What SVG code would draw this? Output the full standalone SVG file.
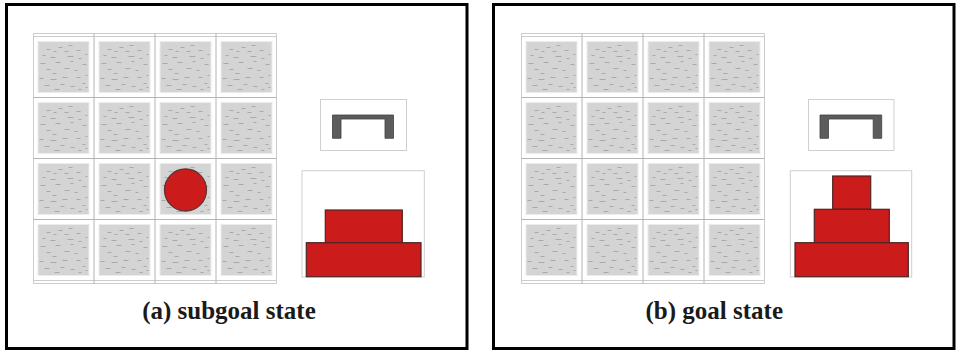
<svg xmlns="http://www.w3.org/2000/svg" xmlns:xlink="http://www.w3.org/1999/xlink" width="956" height="351" viewBox="0 0 956 351">
<style>
.frame{fill:#ffffff;stroke:#000000;stroke-width:3}
.gline{stroke:#b4b4b4;stroke-width:1;fill:none}
.gedge{stroke:#cccccc;stroke-width:1;fill:none}
.box{fill:#ffffff;stroke:#cfcfcf;stroke-width:1}
.grip{fill:#5c5c5c;stroke:#404040;stroke-width:0.8}
.block{fill:#cc1b1b;stroke:#4e2424;stroke-width:1.2}
.label{font-family:"Liberation Serif","Times New Roman",serif;font-weight:bold;font-size:25px;fill:#1a1a1a;text-anchor:middle}
.dash{stroke:#a9a9a9;stroke-width:1}
</style>
<defs>
<g id="tile">
<rect x="-1" y="-1" width="52" height="52" fill="#ececec"/>
<rect x="0" y="0" width="50" height="50" fill="#d4d4d4"/>
<g class="dash">
<path d="M30 3.5h4M20 5.5h4M8 7.5h4M15 9.5h3M26 9.5h4M38 8.5h4M4 13.5h3M12 15.5h5M29 14.5h6M40 16.5h3M47 12.5h2M2 21.5h5M17 20.5h5M32 19.5h3M44 22.5h4M8 27.5h4M26 26.5h5M36 28.5h3M14 31.5h4M1 36.5h4M12 37.5h6M24 35.5h5M38 35.5h4M47 33.5h2M6 43.5h5M22 42.5h4M32 44.5h4M44 41.5h3M16 47.5h5M40 47.5h3M47 45.5h2"/>
</g>
</g>
</defs>
<g id="panel-a">
<rect class="frame" x="6.5" y="4.5" width="460.5" height="344"/>
</g>
<g id="panel-b">
<rect class="frame" x="493.5" y="4.5" width="460.5" height="344"/>
</g>
<g id="grid-a">
<use xlink:href="#tile" x="38.5" y="42"/><use xlink:href="#tile" x="99.5" y="42"/><use xlink:href="#tile" x="160.5" y="42"/><use xlink:href="#tile" x="221.5" y="42"/>
<use xlink:href="#tile" x="38.5" y="103"/><use xlink:href="#tile" x="99.5" y="103"/><use xlink:href="#tile" x="160.5" y="103"/><use xlink:href="#tile" x="221.5" y="103"/>
<use xlink:href="#tile" x="38.5" y="164"/><use xlink:href="#tile" x="99.5" y="164"/><use xlink:href="#tile" x="160.5" y="164"/><use xlink:href="#tile" x="221.5" y="164"/>
<use xlink:href="#tile" x="38.5" y="225"/><use xlink:href="#tile" x="99.5" y="225"/><use xlink:href="#tile" x="160.5" y="225"/><use xlink:href="#tile" x="221.5" y="225"/>
<path class="gedge" d="M33.5 33.5H276.5M33.5 36.5H276.5M33.5 280.5H276.5M33.5 283.5H276.5M33.5 33.5V283.5M276.5 33.5V283.5"/>
<path class="gline" d="M94 33.5V283.5M155 33.5V283.5M216 33.5V283.5M33.5 97.5H276.5M33.5 158.5H276.5M33.5 219.5H276.5"/>
</g>
<g id="ball">
<circle cx="185.5" cy="190" r="21" fill="#cc1b1b" stroke="#5e3333" stroke-width="1.3"/>
</g>
<g id="gripper-a">
<rect class="box" x="320.5" y="99.5" width="86" height="51"/>
<path class="grip" d="M332.5 115H393.5V138.3H385V119H341V138.3H332.5Z"/>
</g>
<g id="stack-a">
<rect class="box" x="302" y="170.7" width="122.3" height="106.3"/>
<rect class="block" x="325.3" y="210" width="77" height="32.7"/>
<rect class="block" x="306.3" y="242.7" width="114.7" height="34"/>
</g>
<g id="grid-b">
<use xlink:href="#tile" x="526.5" y="42"/><use xlink:href="#tile" x="587.5" y="42"/><use xlink:href="#tile" x="648.5" y="42"/><use xlink:href="#tile" x="709.5" y="42"/>
<use xlink:href="#tile" x="526.5" y="103"/><use xlink:href="#tile" x="587.5" y="103"/><use xlink:href="#tile" x="648.5" y="103"/><use xlink:href="#tile" x="709.5" y="103"/>
<use xlink:href="#tile" x="526.5" y="164"/><use xlink:href="#tile" x="587.5" y="164"/><use xlink:href="#tile" x="648.5" y="164"/><use xlink:href="#tile" x="709.5" y="164"/>
<use xlink:href="#tile" x="526.5" y="225"/><use xlink:href="#tile" x="587.5" y="225"/><use xlink:href="#tile" x="648.5" y="225"/><use xlink:href="#tile" x="709.5" y="225"/>
<path class="gedge" d="M521.5 33.5H764.5M521.5 36.5H764.5M521.5 280.5H764.5M521.5 283.5H764.5M521.5 33.5V283.5M764.5 33.5V283.5"/>
<path class="gline" d="M582 33.5V283.5M643 33.5V283.5M704 33.5V283.5M521.5 97.5H764.5M521.5 158.5H764.5M521.5 219.5H764.5"/>
</g>
<g id="gripper-b">
<rect class="box" x="808.5" y="99.5" width="85.5" height="51"/>
<path class="grip" d="M820 115H881.7V138.3H873.2V119H828.5V138.3H820Z"/>
</g>
<g id="stack-b">
<rect class="box" x="790.3" y="170.7" width="121.4" height="106.3"/>
<rect class="block" x="832.7" y="176" width="38" height="33.3"/>
<rect class="block" x="814.3" y="209.3" width="75" height="33.4"/>
<rect class="block" x="795" y="242.7" width="113.3" height="34"/>
</g>
<g id="connectors"></g>
<g id="labels">
<text class="label" x="229" y="318.5">(a) subgoal state</text>
<text class="label" x="714.3" y="318.5">(b) goal state</text>
</g>
</svg>
